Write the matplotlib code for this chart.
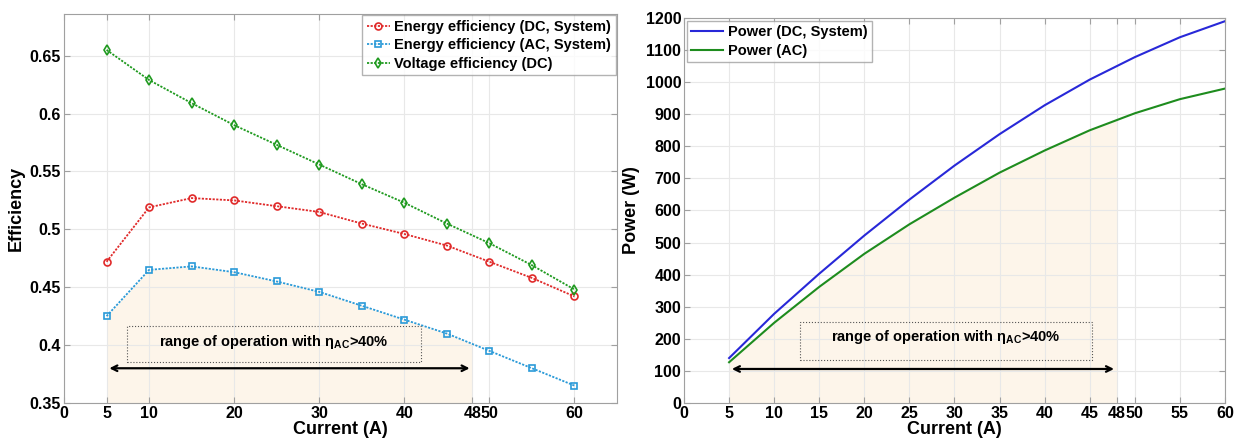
import numpy as np
import matplotlib.pyplot as plt
from matplotlib.patches import Rectangle

plt.rcParams['font.family'] = ['Liberation Sans', 'DejaVu Sans']
plt.rcParams['font.weight'] = 'bold'

current = [5, 10, 15, 20, 25, 30, 35, 40, 45, 50, 55, 60]

eff_dc_system = [0.472, 0.519, 0.527, 0.525, 0.520, 0.515, 0.505, 0.496, 0.486, 0.472, 0.458, 0.442]
eff_ac_system = [0.425, 0.465, 0.468, 0.463, 0.455, 0.446, 0.434, 0.422, 0.410, 0.395, 0.380, 0.365]
eff_voltage_dc = [0.655, 0.629, 0.609, 0.590, 0.573, 0.556, 0.539, 0.523, 0.505, 0.488, 0.469, 0.448]

power_dc_system = [140, 278, 403, 522, 634, 740, 838, 928, 1008, 1078, 1140, 1190]
power_ac = [127, 250, 362, 465, 557, 640, 718, 787, 850, 903, 947, 980]

range_lo, range_hi = 5, 48
left_xticks = [0, 5, 10, 20, 30, 40, 48, 50, 60]
right_xticks = [0, 5, 10, 15, 20, 25, 30, 35, 40, 45, 48, 50, 55, 60]

fill_color = '#fdf5ea'
grid_color = '#e8e8e8'
label = r'range of operation with $\mathregular{\eta_{AC}}$>40%'
dots = (0, (1.2, 0.8))

fig = plt.figure(figsize=(12.43, 4.41), dpi=100)
ax1 = fig.add_axes([0.0515, 0.0862, 0.4449, 0.882])
ax2 = fig.add_axes([0.5503, 0.0862, 0.4352, 0.873])


def style_axes(ax):
    ax.grid(True, color=grid_color, linewidth=0.8)
    ax.set_axisbelow(True)
    for s in ax.spines.values():
        s.set_color('#a0a0a0')
    ax.tick_params(direction='in', top=True, right=True, length=4,
                   color='#a0a0a0', labelsize=11.5, pad=2)
    for t in ax.get_xticklabels() + ax.get_yticklabels():
        t.set_fontweight('bold')


def range_fill(ax, x, y, ymin):
    poly = ax.fill_between(x, ymin, y, color=fill_color, linewidth=0, zorder=0.5)
    clip = Rectangle((range_lo, ymin), range_hi - range_lo, 1e6,
                     transform=ax.transData, visible=False)
    ax.add_patch(clip)
    poly.set_clip_path(clip)


# left: efficiency
range_fill(ax1, current, eff_ac_system, 0.35)
ax1.plot(current, eff_dc_system, ls=dots, color='#e02a2a', marker='o', mfc='none',
         ms=5, mew=1.2, lw=1.3, label='Energy efficiency (DC, System)')
ax1.plot(current, eff_ac_system, ls=dots, color='#2a9ad8', marker='s', mfc='none',
         ms=4.5, mew=1.2, lw=1.3, label='Energy efficiency (AC, System)')
ax1.plot(current, eff_voltage_dc, ls=dots, color='#1f9a1f', marker='d', mfc='none',
         ms=5, mew=1.2, lw=1.3, label='Voltage efficiency (DC)')
ax1.set_xlim(0, 65)
ax1.set_ylim(0.35, 0.686)
ax1.set_xticks(left_xticks)
ax1.set_yticks([0.35, 0.4, 0.45, 0.5, 0.55, 0.6, 0.65])
ax1.set_yticklabels(['0.35', '0.4', '0.45', '0.5', '0.55', '0.6', '0.65'])
ax1.set_xlabel('Current (A)', fontsize=13, fontweight='bold', labelpad=0)
ax1.set_ylabel('Efficiency', fontsize=13, fontweight='bold', labelpad=4)
ax1.add_patch(Rectangle((7.4, 0.3856), 34.6, 0.031, fill=False, ls=':',
                        lw=0.8, ec='#555555', zorder=3))
ax1.text(24.7, 0.403, label, ha='center', va='center', fontsize=10.5,
         fontweight='bold', zorder=4)
ax1.annotate('', xy=(range_hi, 0.38), xytext=(range_lo, 0.38),
             arrowprops=dict(arrowstyle='<->', color='black', lw=1.6))
leg1 = ax1.legend(loc='upper right', fontsize=10.5, handlelength=1.6,
                  handletextpad=0.3, borderpad=0.3, labelspacing=0.3,
                  fancybox=False, edgecolor='#a0a0a0', borderaxespad=0.1)
for t in leg1.get_texts():
    t.set_fontweight('bold')
style_axes(ax1)

# right: power
range_fill(ax2, current, power_ac, 0)
ax2.plot(current, power_dc_system, color='#2828d8', lw=1.5, label='Power (DC, System)')
ax2.plot(current, power_ac, color='#1e8c1e', lw=1.5, label='Power (AC)')
ax2.set_xlim(0, 60)
ax2.set_ylim(0, 1200)
ax2.set_xticks(right_xticks)
ax2.set_yticks(range(0, 1201, 100))
ax2.set_xlabel('Current (A)', fontsize=13, fontweight='bold', labelpad=0)
ax2.set_ylabel('Power (W)', fontsize=13, fontweight='bold', labelpad=4)
ax2.add_patch(Rectangle((12.9, 134), 32.3, 118, fill=False, ls=':',
                        lw=0.8, ec='#555555', zorder=3))
ax2.text(29, 205, label, ha='center', va='center', fontsize=10.5,
         fontweight='bold', zorder=4)
ax2.annotate('', xy=(range_hi, 106), xytext=(range_lo, 106),
             arrowprops=dict(arrowstyle='<->', color='black', lw=1.6))
leg2 = ax2.legend(loc='upper left', fontsize=10.5, handlelength=2.2,
                  handletextpad=0.3, borderpad=0.3, labelspacing=0.3,
                  fancybox=False, edgecolor='#a0a0a0', borderaxespad=0.2)
for t in leg2.get_texts():
    t.set_fontweight('bold')
style_axes(ax2)

fig.savefig('out.png', dpi=100)
